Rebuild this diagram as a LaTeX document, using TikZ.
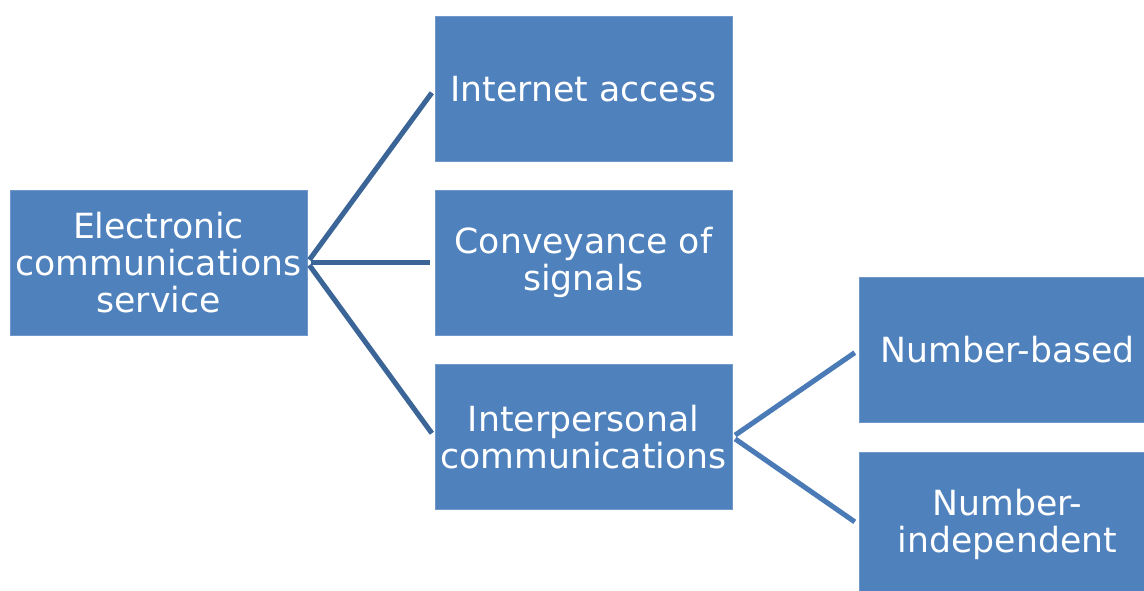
\documentclass[tikz,border=0pt]{standalone}
\usepackage{fontspec}
\setmainfont{DejaVu Sans}
\usepackage{tikz}
\usetikzlibrary{positioning}
\definecolor{boxblue}{HTML}{4F81BD}
\definecolor{boxedge}{HTML}{7198CB}
\definecolor{linedark}{HTML}{3C6597}
\definecolor{linelight}{HTML}{4A7BB7}

\begin{document}
\begin{tikzpicture}[x=0.75pt,y=-0.75pt,line width=3.8pt,
  main node/.style={rectangle,fill=boxblue,draw=boxedge,line width=0.6pt,text=white,
    align=center,font=\fontsize{26}{28}\selectfont,minimum width=222.75pt,minimum height=108.75pt,inner sep=0pt}]
  \useasboundingbox (0,0) rectangle (1144,590);

  \node[main node] (1) at (158.5,262.5) {Electronic\\communications\\service};
  \node[main node] (2) at (583.5,89) {Internet access};
  \node[main node] (3) at (583.5,262.5) {Conveyance of\\signals};
  \node[main node] (4) at (583.5,437) {Interpersonal\\communications};
  \node[main node] (5) at (1007.5,350) {Number-based};
  \node[main node] (6) at (1007.5,524.5) {Number-\\independent};

  \path[draw=linedark,shorten <=2.5pt,shorten >=3.5pt]
    (1.east) edge (2.west)
             edge (3.west)
             edge (4.west);
  \path[draw=linelight,shorten <=2.5pt,shorten >=3.5pt]
    (4.east) edge (5.west)
             edge (6.west);
\end{tikzpicture}
\end{document}
